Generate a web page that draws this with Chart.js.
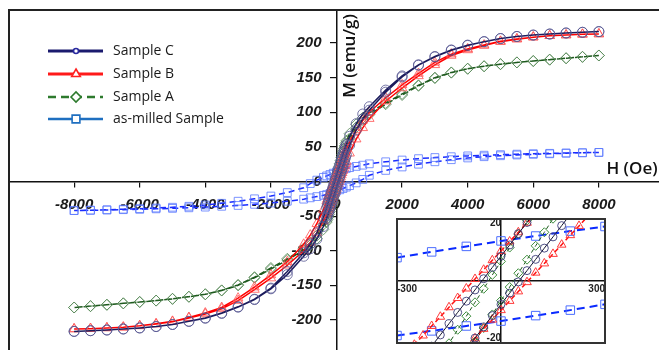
<!DOCTYPE html>
<html>
<head>
<meta charset="utf-8">
<script src="https://cdn.jsdelivr.net/npm/chart.js@4.4.1/dist/chart.umd.min.js"></script>
<style>
  html, body { margin: 0; padding: 0; background: #fff; overflow: hidden; width: 659px; height: 350px; }
  #main { position: absolute; left: -20px; top: -20px; }
  #inset { position: absolute; left: 377px; top: 199px; }
</style>
</head>
<body>
<canvas id="main" width="700" height="400"></canvas>
<canvas id="inset" width="248" height="164"></canvas>
<script>
// applied field H (Oe), descending order, split into ranges
const fieldHigh = [8000, 7500, 7000, 6500, 6000, 5500, 5000, 4500, 4000, 3500, 3000, 2500, 2000, 1500, 1000, 800, 600, 400];
const fieldFine = [300, 275, 250, 225, 200, 175, 150, 125, 100, 75, 50, 25, 0, -25, -50, -75, -100, -125, -150, -175, -200, -225, -250, -275, -300];
const fieldCoarse = [300, 200, 100, 0, -100, -200, -300];
const fieldLow = [-400, -600, -800, -1000, -1500, -2000, -2500, -3000, -3500, -4000, -4500, -5000, -5500, -6000, -6500, -7000, -7500, -8000];

const fieldTicks = [-8000, -6000, -4000, -2000, 0, 2000, 4000, 6000, 8000];
const momentTicks = [-200, -150, -100, -50, 0, 50, 100, 150, 200];
const insetFieldTicks = [-300, 300];
const insetMomentTicks = [-20, 20];

const seriesNames = ['Sample C', 'Sample B', 'Sample A', 'as-milled Sample'];

// M (emu/g): "Down" follows fieldHigh+fieldFine+fieldLow, "Up" is the same fields reversed
const sampleCDown = [216.5, 215.5, 214.5, 213, 211.5, 209.5, 206.5, 202, 197, 190, 180.5, 168.5, 152.5, 132, 108, 97.5, 83.5, 65.3,
  53.4, 50.1, 46.7, 43.2, 39.5, 35.8, 32.0, 28.1, 24.2, 20.3, 16.4, 12.5, 8.6, 4.7, 0.8, -3.1, -7.0, -10.9, -14.8, -18.7, -22.6, -26.5, -30.4, -34.2, -38.0,
  -52.1, -74.1, -90.2, -103, -130, -154, -170, -181, -190, -197, -202, -206.5, -209.5, -211.5, -213, -214.5, -215.5, -216.5];
const sampleCUp = [-216.5, -215.5, -214.5, -213, -211.5, -209.5, -206.5, -202, -197.5, -190.5, -181.5, -170.5, -155, -134.5, -108, -97.1, -83.2, -65,
  -53.0, -49.7, -46.3, -42.7, -39.1, -35.3, -31.5, -27.6, -23.7, -19.8, -15.9, -12.0, -8.1, -4.2, -0.3, 3.6, 7.5, 11.4, 15.3, 19.2, 23.1, 27.0, 30.9, 34.7, 38.5,
  52.5, 74.3, 90.4, 103, 129, 151, 168, 180, 189.5, 196.5, 202, 206.5, 209.5, 211.5, 213, 214.5, 215.5, 216.5];

const sampleBDown = [213, 212.5, 211.5, 210.5, 208.5, 206, 202.5, 197, 191.5, 184, 172, 156, 139.5, 121, 100, 88.2, 74.4, 57.4,
  47.2, 44.5, 41.7, 38.9, 35.9, 32.9, 29.8, 26.6, 23.4, 20.2, 16.9, 13.7, 10.4, 7.2, 3.9, 0.7, -2.6, -5.9, -9.1, -12.4, -15.6, -18.9, -22.1, -25.4, -28.5,
  -40.6, -61.0, -77.4, -90.7, -115.8, -135, -152.5, -168.5, -182, -190, -196.5, -202, -205.5, -208.5, -210.5, -211.5, -212.5, -213];
const sampleBUp = [-213, -212.5, -211.5, -210.5, -208.5, -206, -202.5, -197, -191.5, -184, -172, -156, -139.5, -121, -100, -88, -74.2, -57.2,
  -47.0, -44.3, -41.5, -38.7, -35.7, -32.7, -29.5, -26.4, -23.1, -19.9, -16.6, -13.4, -10.1, -6.9, -3.6, -0.4, 2.9, 6.1, 9.4, 12.6, 15.9, 19.1, 22.4, 25.6, 28.8,
  40.8, 61.2, 77.5, 90.8, 116, 135, 152.5, 168.5, 182, 190, 196.5, 202, 205.5, 208.5, 210.5, 211.5, 212.5, 213];

const sampleADown = [182, 180, 178, 176, 174, 172, 169.5, 166.5, 163, 157.5, 150, 139, 126.5, 113.4, 99.1, 92, 82.5, 69.1,
  58.6, 55.1, 51.4, 47.5, 43.4, 39.2, 34.8, 30.3, 25.7, 21.0, 16.3, 11.6, 6.8, 2.1, -2.7, -7.4, -12.2, -16.9, -21.6, -26.2, -30.8, -35.3, -39.8, -44.0, -48.0,
  -62.1, -78.2, -88.9, -96.7, -111.6, -124.9, -138.2, -149.3, -157.2, -162.8, -166.4, -169.5, -172, -174, -176, -178, -180, -182];
const sampleAUp = [-182, -180, -178, -176, -174, -172, -169.5, -166.5, -163, -157.5, -150, -139, -126.5, -113.4, -99.1, -92, -82.5, -69.1,
  -58.6, -55.1, -51.4, -47.5, -43.4, -39.2, -34.8, -30.3, -25.7, -21.0, -16.3, -11.6, -6.8, -2.1, 2.7, 7.4, 12.2, 16.9, 21.6, 26.2, 30.8, 35.3, 39.8, 44.0, 48.0,
  62.1, 78.2, 88.9, 96.7, 111.6, 124.9, 138.2, 149.3, 157.2, 162.8, 166.4, 169.5, 172, 174, 176, 178, 180, 182];

// as-milled uses fieldHigh+fieldCoarse+fieldLow
const milledDown = [42, 41.6, 41.2, 40.7, 40.2, 39.5, 38.8, 38, 37, 35.8, 34.6, 33, 31, 28.5, 25.5, 23.6, 21.8, 20,
  18.9, 17.3, 15.6, 13.9, 12.0, 10.1, 8.1,
  6, 2, -3, -9, -16, -21, -25, -28.5, -31.5, -34, -35.8, -37.2, -38.3, -39.2, -40, -40.8, -41.4, -42];
const milledUp = [-42, -41.6, -41.2, -40.7, -40.2, -39.5, -38.8, -38, -37, -35.8, -34.6, -33, -31, -28.5, -25.5, -23.6, -21.8, -20,
  -18.9, -17.3, -15.6, -13.9, -12.0, -10.1, -8.1,
  -6, -2, 3, 9, 16, 21, 25, 28.5, 31.5, 34, 35.8, 37.2, 38.3, 39.2, 40, 40.8, 41.4, 42];

const fieldDown = fieldHigh.concat(fieldFine, fieldLow);
const fieldUp = fieldDown.slice().reverse();
const milledFieldDown = fieldHigh.concat(fieldCoarse, fieldLow);
const milledFieldUp = milledFieldDown.slice().reverse();

function loop(hDown, mDown, hUp, mUp) {
  const pts = [];
  hDown.forEach((h, i) => pts.push({ x: h, y: mDown[i] }));
  hUp.forEach((h, i) => pts.push({ x: h, y: mUp[i] }));
  return pts;
}

const loops = [
  loop(fieldDown, sampleCDown, fieldUp, sampleCUp),
  loop(fieldDown, sampleBDown, fieldUp, sampleBUp),
  loop(fieldDown, sampleADown, fieldUp, sampleAUp),
  loop(milledFieldDown, milledDown, milledFieldUp, milledUp)
];

const mainLook = [
  { line: '#1b1b5c', width: 1.5, dash: [], style: 'circle', r: 5, mark: 'rgba(85,85,145,0.8)' },
  { line: '#ff0000', width: 1.5, dash: [], style: 'triangle', r: 5.5, mark: 'rgba(255,80,80,0.8)' },
  { line: '#1e5a1e', width: 1.5, dash: [6, 3], style: 'rectRot', r: 5.5, mark: 'rgba(90,140,90,0.85)' },
  { line: '#1a2cff', width: 1.5, dash: [6, 4], style: 'rect', r: 5.5, mark: 'rgba(90,120,255,0.8)' }
];
const insetLook = [
  { line: '#151530', width: 1, dash: [], style: 'circle', r: 4, mark: 'rgba(60,60,120,0.9)' },
  { line: '#ff1010', width: 1.5, dash: [5, 3], style: 'triangle', r: 5, mark: '#ff3c3c' },
  { line: '#1e5a1e', width: 1, dash: [4, 3], style: 'rectRot', r: 4.5, mark: '#3f8f3f' },
  { line: '#0a2aff', width: 2, dash: [8, 5], style: 'rect', r: 6, mark: '#4a6cff' }
];

function makeDatasets(looks) {
  return loops.map((pts, i) => ({
    label: seriesNames[i],
    data: pts,
    showLine: true,
    fill: false,
    tension: 0,
    borderColor: looks[i].line,
    borderWidth: looks[i].width,
    borderDash: looks[i].dash,
    pointStyle: looks[i].style,
    pointRadius: looks[i].r,
    pointBorderColor: looks[i].mark,
    pointBackgroundColor: 'rgba(0,0,0,0)',
    pointBorderWidth: 1
  }));
}

const OFF = 20; // canvas offset against the page

const framePlugin = {
  id: 'frame',
  beforeDraw(chart, args, opts) {
    if (!opts.fill) return;
    const a = chart.chartArea;
    chart.ctx.save();
    chart.ctx.fillStyle = opts.fill;
    chart.ctx.fillRect(a.left, a.top, a.right - a.left, a.bottom - a.top);
    chart.ctx.restore();
  },
  afterDraw(chart, args, opts) {
    const a = chart.chartArea;
    const ctx = chart.ctx;
    ctx.save();
    ctx.strokeStyle = opts.color;
    ctx.lineWidth = 2;
    ctx.strokeRect(a.left, a.top, a.right - a.left, a.bottom - a.top);
    ctx.restore();
  }
};

const legendLook = [
  { line: '#1a1a6e', width: 3, dash: [], style: 'circle', r: 2.5, mark: '#2a2aa0' },
  { line: '#ff1a1a', width: 3, dash: [], style: 'triangle', r: 5, mark: '#ff2020' },
  { line: '#2d7a2d', width: 2.5, dash: [8, 5], style: 'rectRot', r: 5, mark: '#2d7a2d' },
  { line: '#1f6fc0', width: 2.5, dash: [], style: 'rect', r: 5.5, mark: '#1f6fc0' }
];

const legendPlugin = {
  id: 'sampleLegend',
  afterDraw(chart) {
    const ctx = chart.ctx;
    const rowY = [51, 74, 97, 119];
    ctx.save();
    seriesNames.forEach((name, i) => {
      const lk = legendLook[i];
      const y = rowY[i] + OFF;
      ctx.strokeStyle = lk.line;
      ctx.lineWidth = lk.width;
      ctx.setLineDash(lk.dash);
      ctx.beginPath();
      ctx.moveTo(48 + OFF, y);
      ctx.lineTo(103 + OFF, y);
      ctx.stroke();
      ctx.setLineDash([]);
      ctx.fillStyle = '#fff';
      ctx.strokeStyle = lk.mark;
      ctx.lineWidth = 1.6;
      Chart.helpers.drawPoint(ctx, { pointStyle: lk.style, radius: lk.r, borderWidth: 1.6, rotation: 0 }, 76 + OFF, y);
      ctx.fillStyle = '#1a1a1a';
      ctx.font = '14px "Open Sans"';
      ctx.textAlign = 'left';
      ctx.textBaseline = 'middle';
      ctx.fillText(name, 113 + OFF, y);
    });
    ctx.restore();
  }
};

const titlePlugin = {
  id: 'axisTitles',
  afterDraw(chart) {
    const ctx = chart.ctx;
    ctx.save();
    ctx.fillStyle = '#111';
    ctx.font = '600 17px "Open Sans"';
    ctx.textAlign = 'center';
    ctx.textBaseline = 'middle';
    ctx.fillText('H (Oe)', 632 + OFF, 169 + OFF);
    ctx.translate(350 + OFF, 56 + OFF);
    ctx.rotate(-Math.PI / 2);
    ctx.fillText('M (emu/g)', 0, 0);
    ctx.restore();
  }
};

const tickFont = { family: 'Liberation Sans', size: 15, style: 'italic', weight: 'bold' };
const mMin = -247.7, mMax = 247.7;

new Chart(document.getElementById('main'), {
  type: 'scatter',
  data: { datasets: makeDatasets(mainLook) },
  options: {
    responsive: false,
    animation: false,
    devicePixelRatio: 1,
    layout: { padding: { left: 29, top: 30, right: 18, bottom: 27 } },
    scales: {
      x: {
        type: 'linear', min: -9985, max: 9924,
        position: { y: 0 },
        afterBuildTicks: s => { s.ticks = fieldTicks.map(v => ({ value: v })); },
        grid: { drawOnChartArea: false, drawTicks: true, tickLength: 5, color: '#111', lineWidth: 1.2 },
        border: { color: '#111', width: 1.5 },
        ticks: { font: tickFont, color: '#1a1a1a', padding: 9, autoSkip: false, maxRotation: 0, callback: v => String(v) }
      },
      y: {
        type: 'linear', min: mMin, max: mMax,
        position: { x: 0 },
        afterBuildTicks: s => { s.ticks = momentTicks.map(v => ({ value: v })); },
        grid: { drawOnChartArea: false, drawTicks: true, tickLength: 6, color: '#111', lineWidth: 1.2 },
        border: { color: '#111', width: 1.5 },
        ticks: { display: false }
      },
      // label-only axis a little left of H = 0, so the numbers clear the tick marks
      yLabels: {
        type: 'linear', min: mMin, max: mMax,
        position: { x: -457 },
        afterBuildTicks: s => { s.ticks = momentTicks.map(v => ({ value: v })); },
        grid: { display: false },
        border: { display: false },
        ticks: { font: tickFont, color: '#1a1a1a', padding: 0, autoSkip: false, callback: v => String(v) }
      }
    },
    plugins: {
      legend: { display: false },
      tooltip: { enabled: false },
      frame: { color: '#222' }
    }
  },
  plugins: [framePlugin, legendPlugin, titlePlugin]
});

const insetFont = { family: 'Liberation Sans', size: 10, weight: 'bold' };

new Chart(document.getElementById('inset'), {
  type: 'scatter',
  data: { datasets: makeDatasets(insetLook) },
  options: {
    responsive: false,
    animation: false,
    devicePixelRatio: 1,
    layout: { padding: 20 },
    scales: {
      x: {
        type: 'linear', min: -300, max: 300,
        position: { y: 0 },
        afterBuildTicks: s => { s.ticks = insetFieldTicks.map(v => ({ value: v })); },
        grid: { drawOnChartArea: false, drawTicks: false },
        border: { color: '#111', width: 1.5 },
        ticks: { font: insetFont, color: '#222', padding: 2, align: 'inner', autoSkip: false, maxRotation: 0, callback: v => String(v) }
      },
      y: {
        type: 'linear', min: -21.5, max: 21.5,
        position: { x: 0 },
        afterBuildTicks: s => { s.ticks = insetMomentTicks.map(v => ({ value: v })); },
        grid: { drawOnChartArea: false, drawTicks: false },
        border: { color: '#111', width: 1.5 },
        ticks: { font: insetFont, color: '#222', padding: 1, autoSkip: false, callback: v => String(v) }
      }
    },
    plugins: {
      legend: { display: false },
      tooltip: { enabled: false },
      frame: { color: '#333', fill: '#fff' }
    }
  },
  plugins: [framePlugin]
});
</script>
</body>
</html>
